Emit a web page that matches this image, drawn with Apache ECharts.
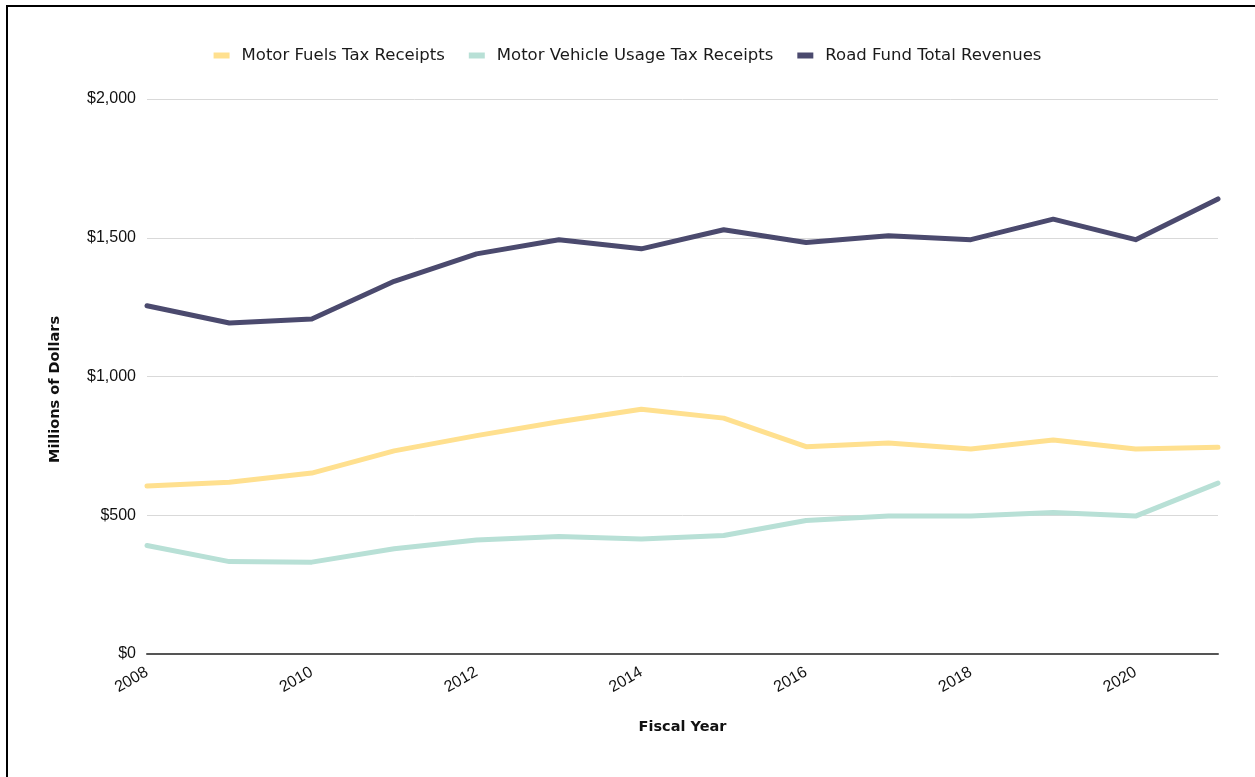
<!DOCTYPE html>
<html>
<head>
<meta charset="utf-8">
<title>Road Fund Revenues</title>
<script src="https://cdn.jsdelivr.net/npm/echarts@6/dist/echarts.min.js"></script>
<style>
  html, body { margin: 0; padding: 0; background: #fff; }
  #chart { width: 1255px; height: 777px; }
</style>
</head>
<body>
<div id="chart"></div>
<script>
// Fiscal years on the horizontal axis
const years = ['2008','2009','2010','2011','2012','2013','2014','2015','2016','2017','2018','2019','2020','2021'];

// Receipts and revenues, millions of dollars
const motorFuels = [605, 619, 652, 732, 787, 837, 882, 850, 747, 760, 739, 771, 739, 745];
const vehicleUsage = [391, 333, 331, 379, 411, 423, 414, 427, 481, 497, 497, 510, 497, 616];
const roadFundTotal = [1255, 1193, 1207, 1343, 1442, 1493, 1460, 1529, 1483, 1507, 1493, 1567, 1493, 1640];

const seriesNames = ['Motor Fuels Tax Receipts', 'Motor Vehicle Usage Tax Receipts', 'Road Fund Total Revenues'];
const seriesColors = ['#FFE08F', '#B8E0D6', '#4B4A6E'];

const chart = echarts.init(document.getElementById('chart'), null, { renderer: 'canvas' });

function lineSeries(name, data, color) {
  return {
    name: name,
    type: 'line',
    data: data,
    symbol: 'none',
    smooth: false,
    lineStyle: { width: 5, color: color, cap: 'round', join: 'round' },
    itemStyle: { color: color },
    emphasis: { disabled: true }
  };
}

chart.setOption({
  animation: false,
  backgroundColor: '#fff',
  graphic: [{
    type: 'rect',
    shape: { x: 7, y: 6, width: 1400, height: 1000 },
    style: { fill: 'none', stroke: '#000', lineWidth: 2 },
    silent: true
  }],
  legend: {
    top: 42,
    left: 'center',
    itemWidth: 16,
    itemHeight: 6,
    itemGap: 24,
    icon: 'rect',
    data: seriesNames,
    textStyle: {
      fontFamily: 'DejaVu Sans',
      fontSize: 16.5,
      color: '#1a1a1a',
      padding: [0, 0, 0, 7]
    }
  },
  grid: { left: 147, right: 37, top: 99, bottom: 123, containLabel: false },
  xAxis: {
    type: 'category',
    data: years,
    boundaryGap: false,
    name: 'Fiscal Year',
    nameLocation: 'middle',
    nameGap: 66,
    nameTextStyle: { fontFamily: 'DejaVu Sans', fontWeight: 'bold', fontSize: 14.5, color: '#111', verticalAlign: 'top' },
    axisLine: { show: true, lineStyle: { color: '#555', width: 2 } },
    axisTick: { show: false },
    axisLabel: {
      interval: 1,
      rotate: 30,
      margin: 17,
      fontFamily: 'Liberation Sans',
      fontSize: 16,
      color: '#111'
    },
    splitLine: { show: false }
  },
  yAxis: {
    type: 'value',
    min: 0,
    max: 2000,
    interval: 500,
    name: 'Millions of Dollars',
    nameLocation: 'middle',
    nameGap: 84,
    nameTextStyle: {
      fontFamily: 'DejaVu Sans', fontWeight: 'bold', fontSize: 14.5, color: '#111',
      padding: [0, 26, 0, 0]
    },
    axisLine: { show: false },
    axisTick: { show: false },
    axisLabel: {
      margin: 11,
      fontFamily: 'Liberation Sans',
      fontSize: 16,
      color: '#111',
      formatter: function (v) { return '$' + v.toLocaleString('en-US'); }
    },
    splitLine: { show: true, lineStyle: { color: '#d9d9d9', width: 1 } }
  },
  series: [
    lineSeries(seriesNames[0], motorFuels, seriesColors[0]),
    lineSeries(seriesNames[1], vehicleUsage, seriesColors[1]),
    lineSeries(seriesNames[2], roadFundTotal, seriesColors[2])
  ]
});
</script>
</body>
</html>
